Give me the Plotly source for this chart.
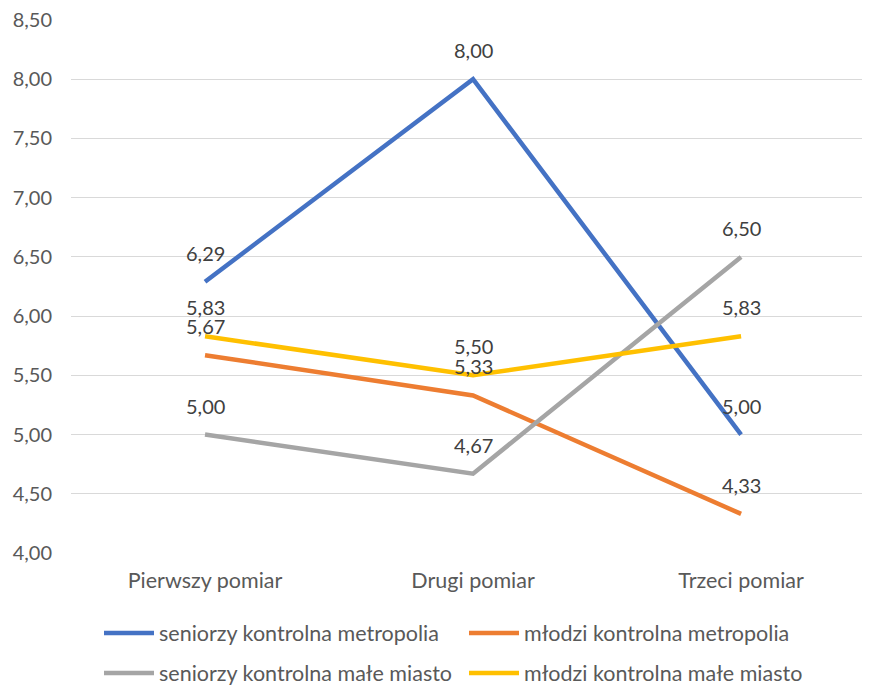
import plotly.graph_objects as go

categories = ["Pierwszy pomiar", "Drugi pomiar", "Trzeci pomiar"]
series_names = [
    "seniorzy kontrolna metropolia",
    "młodzi kontrolna metropolia",
    "seniorzy kontrolna małe miasto",
    "młodzi kontrolna małe miasto",
]
seniorzy_metropolia = [6.29, 8.00, 5.00]
mlodzi_metropolia = [5.67, 5.33, 4.33]
seniorzy_male_miasto = [5.00, 4.67, 6.50]
mlodzi_male_miasto = [5.83, 5.50, 5.83]
colors = ["#4472C4", "#ED7D31", "#A5A5A5", "#FFC000"]
legend_rows = ["legend", "legend", "legend2", "legend2"]
y_ticks = [4.0, 4.5, 5.0, 5.5, 6.0, 6.5, 7.0, 7.5, 8.0, 8.5]

all_series = [seniorzy_metropolia, mlodzi_metropolia, seniorzy_male_miasto, mlodzi_male_miasto]

FONT = "Lato"
FS = 20
FS_TXT = 21.5
W, H = 862, 679
fig = go.Figure()
for name, vals, c, lg in zip(series_names, all_series, colors, legend_rows):
    fig.add_trace(go.Scatter(x=categories, y=vals, name=name, mode="lines",
                             line=dict(color=c, width=4.5), legend=lg))

annotations = []
for vals in all_series:
    for cat, v in zip(categories, vals):
        annotations.append(dict(x=cat, y=v, xref="x", yref="y",
                                text=f"{v:.2f}".replace(".", ","), showarrow=False,
                                yshift=29, font=dict(family=FONT, size=FS, color="#404040")))

leg_common = dict(orientation="h", xref="container", yref="container",
                  x=91 / W, xanchor="left", yanchor="middle",
                  entrywidth=300, entrywidthmode="pixels",
                  font=dict(family=FONT, size=FS_TXT, color="#595959"),
                  itemwidth=50, bgcolor="rgba(0,0,0,0)")

fig.update_layout(
    width=W, height=H,
    margin=dict(l=63, r=0, t=12, b=134),
    plot_bgcolor="white", paper_bgcolor="white",
    font=dict(family=FONT, size=FS, color="#595959"),
    annotations=annotations,
    showlegend=True,
    legend=dict(leg_common, y=1 - (633 - 8) / H),
    legend2=dict(leg_common, y=1 - (673 - 8) / H),
)
fig.update_xaxes(type="category", range=[-0.5, 2.481], showgrid=False,
                 showline=False, ticks="", ticklabelstandoff=12,
                 tickfont=dict(family=FONT, size=FS_TXT, color="#595959"))
fig.update_yaxes(range=[3.9999, 8.5001], tickvals=y_ticks,
                 ticktext=[f"{t:.2f}".replace(".", ",") for t in y_ticks],
                 showgrid=True, gridcolor="#D9D9D9", gridwidth=1,
                 zeroline=False, showline=False, ticks="", ticklabelstandoff=18,
                 ticklabeloverflow="allow",
                 tickfont=dict(family=FONT, size=FS, color="#595959"))
fig.write_html("out.html")
